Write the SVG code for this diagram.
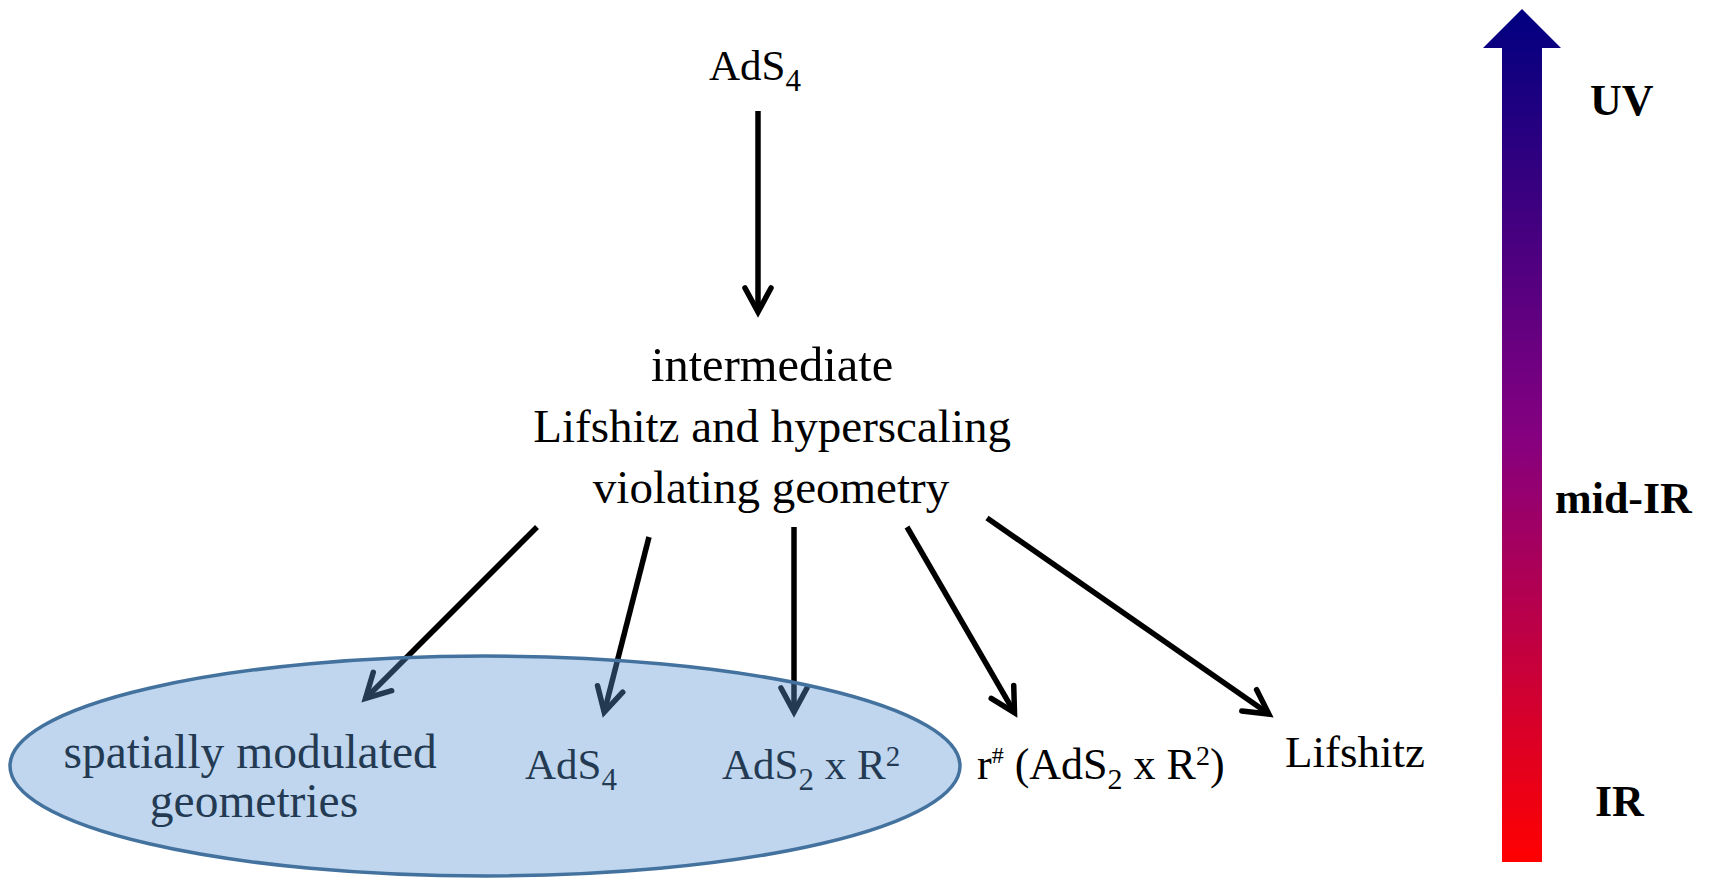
<svg xmlns="http://www.w3.org/2000/svg" width="1709" height="880" viewBox="0 0 1709 880">
<style>
  .t { font-family: "Liberation Serif", "Times New Roman", serif; fill: #000; }
  .b { font-family: "Liberation Serif", "Times New Roman", serif; font-weight: bold; fill: #000; font-size: 44px; }
  .c { fill: none; stroke: #000; stroke-width: 5.5; marker-end: url(#ah); }
</style>
<defs>
  <marker id="ah" markerUnits="userSpaceOnUse" viewBox="-30 -20 40 40" markerWidth="40" markerHeight="40" refX="0" refY="0" orient="auto" overflow="visible">
    <path d="M -24 -13 L 0 0 L -24 13" fill="none" stroke="#000" stroke-width="5.5" stroke-linejoin="miter" stroke-linecap="round"/>
  </marker>
  <linearGradient id="grad" x1="0" y1="1" x2="0" y2="0">
    <stop offset="0" stop-color="#FF0000"/>
    <stop offset="0.5" stop-color="#850080"/>
    <stop offset="1" stop-color="#000080"/>
  </linearGradient>
</defs>

<g id="connectors">
  <line class="c" x1="758" y1="111" x2="758" y2="312"/>
  <line class="c" x1="537" y1="527" x2="365.5" y2="698.5"/>
  <line class="c" x1="649" y1="537" x2="604.2" y2="712.2"/>
  <line class="c" x1="794" y1="527" x2="794" y2="712"/>
  <line class="c" x1="907" y1="527" x2="1014.5" y2="712.7"/>
  <line class="c" x1="987" y1="518" x2="1268.9" y2="714.1"/>
</g>

<g id="node-ads4-top">
  <text class="t" x="709" y="80" font-size="43">AdS<tspan font-size="31" dy="11">4</tspan></text>
</g>

<g id="node-intermediate">
  <text class="t" font-size="47" text-anchor="middle">
    <tspan x="778" y="381" font-size="48.5">intermediate</tspan>
    <tspan x="778" y="442">Lifshitz and hyperscaling</tspan>
    <tspan x="771" y="503">violating geometry</tspan>
  </text>
</g>

<g id="node-spatially">
  <text class="t" font-size="47.5" text-anchor="middle">
    <tspan x="256" y="768">spatially modulated</tspan>
    <tspan x="254" y="817">geometries</tspan>
  </text>
</g>

<g id="node-ads4-ir">
  <text class="t" x="525" y="779" font-size="43">AdS<tspan font-size="31" dy="11">4</tspan></text>
</g>

<g id="node-ads2r2">
  <text class="t" x="722" y="779" font-size="43">AdS<tspan font-size="31" dy="11">2</tspan><tspan dy="-11"> x R</tspan><tspan font-size="29" dy="-13">2</tspan></text>
</g>

<g id="node-ellipse">
  <ellipse cx="485" cy="766" rx="475" ry="110" fill="#5B95D2" fill-opacity="0.39" stroke="#44729E" stroke-width="3.5"/>
</g>

<g id="node-rsharp">
  <text class="t" x="977" y="779" font-size="44">r<tspan font-size="24" dy="-16">#</tspan><tspan dy="16"> (AdS</tspan><tspan font-size="30" dy="10">2</tspan><tspan dy="-10"> x R</tspan><tspan font-size="28" dy="-14">2</tspan><tspan dy="14">)</tspan></text>
</g>

<g id="node-lifshitz">
  <text class="t" x="1285" y="767" font-size="45">Lifshitz</text>
</g>

<g id="scale-arrow">
  <path d="M 1502 862 L 1502 48 L 1483 48 L 1522 9 L 1561 48 L 1542 48 L 1542 862 Z" fill="url(#grad)"/>
  <text class="b" x="1590" y="115">UV</text>
  <text class="b" x="1555" y="513">mid-IR</text>
  <text class="b" x="1595" y="816">IR</text>
</g>
</svg>
